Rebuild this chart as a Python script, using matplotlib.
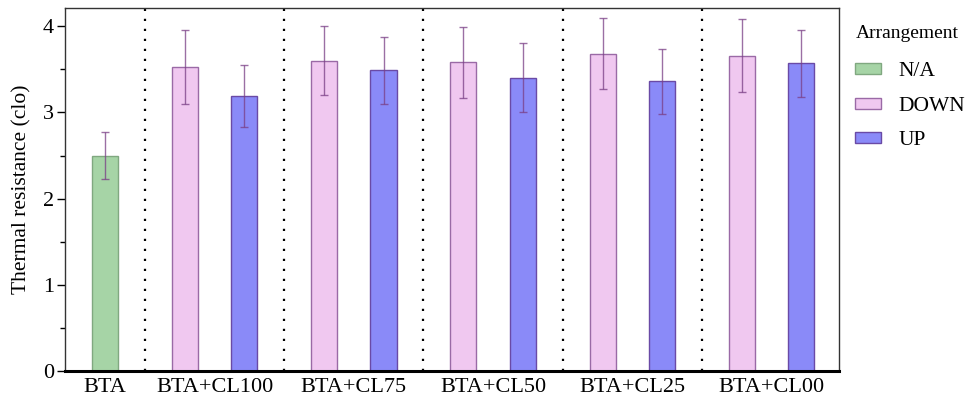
import numpy as np
import matplotlib.pyplot as plt
from matplotlib.patches import Patch

plt.rcParams['font.family'] = ['Liberation Serif', 'DejaVu Serif']

# dane
groups = ['BTA', 'BTA+CL100', 'BTA+CL75', 'BTA+CL50', 'BTA+CL25', 'BTA+CL00']
bta_val = 2.50
bta_err = 0.27
down_val = [3.53, 3.60, 3.58, 3.68, 3.66]
down_err = [0.43, 0.40, 0.41, 0.41, 0.42]
up_val = [3.19, 3.49, 3.40, 3.36, 3.57]
up_err = [0.355, 0.39, 0.40, 0.38, 0.39]
legend_labels = ['N/A', 'DOWN', 'UP']

c_na, e_na = '#a6d4a6', '#80a880'
c_down, e_down = '#f0c8f0', '#9a6aa6'
c_up, e_up = '#8a8af8', '#6a4aa6'
err_col = '#7a3f86'

# pozycje slupkow
gap = 1.35
down_x = np.array([gap + k * (1 + gap) for k in range(5)])
up_x = down_x + 1
w = 0.44

fig = plt.figure(figsize=(9.71, 4.01), dpi=100)
ax = fig.add_axes([0.0669, 0.0748, 0.797, 0.905])

ax.bar(0, bta_val, w, color=c_na, edgecolor=e_na, linewidth=1)
ax.bar(down_x, down_val, w, color=c_down, edgecolor=e_down, linewidth=1)
ax.bar(up_x, up_val, w, color=c_up, edgecolor=e_up, linewidth=1)

ek = dict(fmt='none', ecolor=err_col, elinewidth=1, capsize=3, capthick=1, alpha=0.75)
ax.errorbar([0], [bta_val], yerr=[bta_err], **ek)
ax.errorbar(down_x, down_val, yerr=down_err, **ek)
ax.errorbar(up_x, up_val, yerr=up_err, **ek)

# linie kropkowane miedzy grupami
seps = np.concatenate(([gap / 2], (up_x[:-1] + down_x[1:]) / 2))
for s in seps:
    ax.axvline(s, color='black', linestyle=(0, (1, 3.5)), linewidth=1.6, zorder=0)

centers = np.concatenate(([0], (down_x + up_x) / 2))
ax.set_xticks(centers)
ax.set_xticklabels(groups, fontsize=16)
ax.tick_params(axis='x', length=0, pad=5)

ax.set_xlim(-0.68, up_x[-1] + 0.64)
ax.set_ylim(0, 4.21)
ax.set_yticks([0, 1, 2, 3, 4])
ax.set_yticks(np.arange(0.5, 4.0, 1.0), minor=True)
ax.tick_params(axis='y', labelsize=16, length=6, width=1, direction='out', pad=2)
ax.tick_params(axis='y', which='minor', length=3.5, width=1)
ax.set_ylabel('Thermal resistance (clo)', fontsize=15.5, labelpad=8)

for side in ['top', 'right', 'left']:
    ax.spines[side].set_color('#333333')
    ax.spines[side].set_linewidth(1)
ax.spines['bottom'].set_linewidth(2.2)
ax.spines['bottom'].set_color('black')

# legenda - tytul osobno, zeby byl wiekszy odstep
fig.text(856 / 971, 1 - 33 / 401, 'Arrangement', fontsize=14, va='center', ha='left')
handles = [Patch(facecolor=c_na, edgecolor=e_na),
           Patch(facecolor=c_down, edgecolor=e_down),
           Patch(facecolor=c_up, edgecolor=e_up)]
ax.legend(handles, legend_labels, loc='upper left',
          bbox_to_anchor=(0.997, 0.9015), frameon=False, fontsize=15.5,
          handlelength=1.21, handleheight=0.42,
          labelspacing=0.72, handletextpad=0.79, borderpad=0.36)

fig.savefig('out.png', dpi=100)
